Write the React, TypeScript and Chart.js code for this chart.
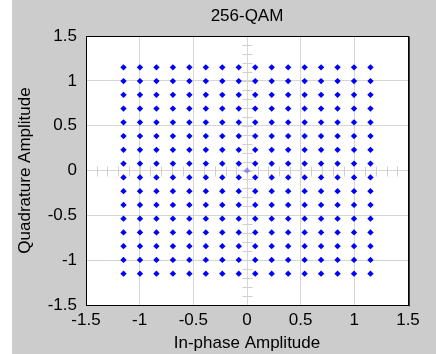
import { useEffect, useRef } from "react";
import { Chart, registerables } from "chart.js";

Chart.register(...registerables);

// 256-QAM constellation levels (normalized to unit average power)
const inPhaseLevels = [
  -1.1505, -0.9971, -0.8437, -0.6903, -0.5369, -0.3835, -0.2301, -0.0767,
  0.0767, 0.2301, 0.3835, 0.5369, 0.6903, 0.8437, 0.9971, 1.1505,
];
const quadratureLevels = [
  -1.1505, -0.9971, -0.8437, -0.6903, -0.5369, -0.3835, -0.2301, -0.0767,
  0.0767, 0.2301, 0.3835, 0.5369, 0.6903, 0.8437, 0.9971, 1.1505,
];
const faintPointX = [0];
const faintPointY = [0];

const axisTickValues = [-1.5, -1, -0.5, 0, 0.5, 1, 1.5];
const axisTickLabels = ["-1.5", "-1", "-0.5", "0", "0.5", "1", "1.5"];
const minorTickValues = [
  -1.5, -1.4, -1.3, -1.2, -1.1, -1.0, -0.9, -0.8, -0.7, -0.6, -0.5, -0.4, -0.3,
  -0.2, -0.1, 0, 0.1, 0.2, 0.3, 0.4, 0.5, 0.6, 0.7, 0.8, 0.9, 1.0, 1.1, 1.2,
  1.3, 1.4, 1.5,
];

const chartTitle = "256-QAM";
const xTitle = "In-phase Amplitude";
const yTitle = "Quadrature Amplitude";

const FONT = "'Liberation Sans', Arial, sans-serif";

export default function App() {
  const ref = useRef<HTMLCanvasElement | null>(null);

  useEffect(() => {
    if (!ref.current) return;
    const points = inPhaseLevels.flatMap((i) =>
      quadratureLevels.map((q) => ({ x: i, y: q }))
    );
    const faint = faintPointX.map((x, k) => ({ x, y: faintPointY[k] }));

    const backgroundPlugin = {
      id: "bg",
      beforeDraw(chart: any) {
        const { ctx, width, height, chartArea } = chart;
        ctx.save();
        ctx.fillStyle = "#ffffff";
        ctx.fillRect(0, 0, width, height);
        ctx.fillStyle = "#cccccc";
        ctx.fillRect(12, 0, width - 12, height);
        ctx.fillStyle = "#ffffff";
        ctx.fillRect(
          chartArea.left,
          chartArea.top,
          chartArea.right - chartArea.left,
          chartArea.bottom - chartArea.top
        );
        ctx.restore();
      },
    };

    const crossTicksPlugin = {
      id: "crossTicks",
      beforeDatasetsDraw(chart: any) {
        const { ctx, scales } = chart;
        const xs = scales.x;
        const ys = scales.y;
        const x0 = Math.round(xs.getPixelForValue(0)) + 0.5;
        const y0 = Math.round(ys.getPixelForValue(0)) + 0.5;
        ctx.save();
        ctx.strokeStyle = "#cfcfcf";
        ctx.lineWidth = 1;
        ctx.beginPath();
        for (const v of minorTickValues) {
          const px = Math.round(xs.getPixelForValue(v)) + 0.5;
          ctx.moveTo(px, y0 - 5);
          ctx.lineTo(px, y0 + 5);
          const py = Math.round(ys.getPixelForValue(v)) + 0.5;
          ctx.moveTo(x0 - 5, py);
          ctx.lineTo(x0 + 5, py);
        }
        ctx.stroke();
        ctx.restore();
      },
    };

    const framePlugin = {
      id: "frame",
      afterDraw(chart: any) {
        const { ctx, chartArea } = chart;
        const l = Math.round(chartArea.left) + 0.5;
        const t = Math.round(chartArea.top) + 0.5;
        const r = Math.round(chartArea.right) + 0.5;
        const b = Math.round(chartArea.bottom) + 0.5;
        ctx.save();
        ctx.strokeStyle = "#000000";
        ctx.lineWidth = 1;
        ctx.strokeRect(l, t, r - l, b - t);
        ctx.strokeStyle = "#404040";
        ctx.beginPath();
        ctx.moveTo(r + 1, t);
        ctx.lineTo(r + 1, b + 1);
        ctx.stroke();
        ctx.restore();
      },
    };

    const tickFont = { family: FONT, size: 17 };
    const labelFor = (v: number) => {
      const k = axisTickValues.indexOf(v);
      return k >= 0 ? axisTickLabels[k] : "";
    };

    const chart = new Chart(ref.current, {
      type: "scatter",
      data: {
        datasets: [
          {
            data: faint,
            pointStyle: "rectRot",
            pointRadius: 3.2,
            pointBorderWidth: 0,
            backgroundColor: "rgba(0,0,255,0.35)",
            borderColor: "rgba(0,0,255,0.35)",
          },
          {
            data: points,
            pointStyle: "rectRot",
            pointRadius: 3.2,
            pointBorderWidth: 0,
            backgroundColor: "#0000ff",
            borderColor: "#0000ff",
          },
        ],
      },
      options: {
        animation: false,
        responsive: false,
        devicePixelRatio: 1,
        layout: { padding: { left: 12, right: 28, top: 0, bottom: 0 } },
        plugins: {
          legend: { display: false },
          tooltip: { enabled: false },
          title: {
            display: true,
            text: chartTitle,
            fullSize: false,
            color: "#000000",
            font: { family: FONT, size: 17, weight: "normal", lineHeight: 1.2 },
            padding: { top: 6, bottom: 9.6 },
          },
        },
        scales: {
          x: {
            type: "linear",
            min: -1.5,
            max: 1.5,
            afterBuildTicks: (s: any) => {
              s.ticks = axisTickValues.map((v) => ({ value: v }));
            },
            afterFit: (s: any) => {
              s.height = 49;
            },
            border: { display: false },
            grid: { color: "#d6d6d6", drawTicks: false },
            ticks: {
              color: "#000000",
              font: tickFont,
              padding: 5,
              callback: (v: any) => labelFor(Number(v)),
            },
            title: {
              display: true,
              text: xTitle,
              color: "#000000",
              font: { family: FONT, size: 17 },
              padding: { top: 0, bottom: 0 },
            },
          },
          y: {
            type: "linear",
            min: -1.5,
            max: 1.5,
            afterBuildTicks: (s: any) => {
              s.ticks = axisTickValues.map((v) => ({ value: v }));
            },
            afterFit: (s: any) => {
              s.width = 74;
            },
            border: { display: false },
            grid: { color: "#d6d6d6", drawTicks: false },
            ticks: {
              color: "#000000",
              font: tickFont,
              padding: 9,
              callback: (v: any) => labelFor(Number(v)),
            },
            title: {
              display: true,
              text: yTitle,
              color: "#000000",
              font: { family: FONT, size: 17 },
              padding: { top: 3, bottom: 0 },
            },
          },
        },
      },
      plugins: [backgroundPlugin, crossTicksPlugin, framePlugin],
    } as any);

    return () => chart.destroy();
  }, []);

  return (
    <div style={{ position: "absolute", left: 0, top: 0, width: 436, height: 354 }}>
      <canvas ref={ref} width={436} height={354} style={{ display: "block" }} />
    </div>
  );
}
